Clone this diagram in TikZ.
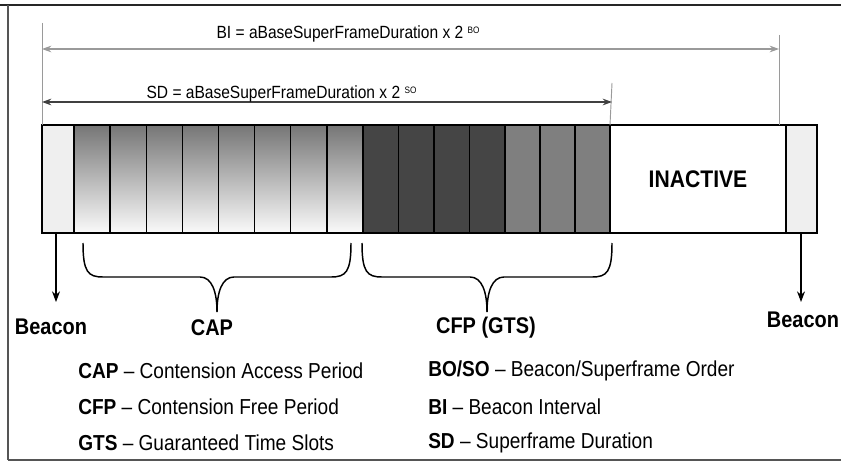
\documentclass[tikz,border=0pt]{standalone}
\usepackage{fontspec}
\setmainfont{Liberation Sans}[FakeStretch=0.88]
\usetikzlibrary{arrows.meta}
\definecolor{beaconfill}{HTML}{EFEFEF}
\definecolor{darkslot}{HTML}{454545}
\definecolor{midslot}{HTML}{7F7F7F}
\definecolor{capTop}{HTML}{767676}
\definecolor{capBot}{HTML}{FAFAFA}
\definecolor{dimline}{HTML}{9A9A9A}
\definecolor{framecol}{HTML}{555555}
\begin{document}
\begin{tikzpicture}[x=0.75pt,y=-0.75pt,
  slotbox/.style={draw=black, line width=1.1pt, inner sep=0pt, outer sep=0pt,
    minimum height=81pt, anchor=north west},
  capslot/.style={slotbox, minimum width=27.09pt, top color=capTop, bottom color=capBot},
  darkbox/.style={slotbox, minimum width=26.6pt, fill=darkslot},
  midbox/.style={slotbox, minimum width=26.25pt, fill=midslot},
  beaconbox/.style={slotbox, fill=beaconfill},
  dimtick/.style={draw=dimline, line width=0.7pt},
  dimarrow/.style={{Stealth[length=7pt,width=5pt]}-{Stealth[length=7pt,width=5pt]}, line width=0.8pt},
  dimlabel/.style={font=\fontsize{13.25}{15}\selectfont, inner sep=1pt},
  biglabel/.style={font=\fontsize{17}{20}\selectfont\bfseries, inner sep=0pt},
  legend/.style={font=\fontsize{16.25}{19}\selectfont, anchor=west, inner sep=0pt},
  downarrow/.style={-{Stealth[length=8pt,width=6pt]}, line width=0.8pt},
  bracepath/.style={draw=black, line width=1.1pt}
]
\useasboundingbox (0,0) rectangle (841,463);
\fill[white] (0,0) rectangle (841,463);
% frame
\draw[line width=2.2pt, black!85] (0,5) -- (841,5);
\draw[line width=0.8pt, framecol] (8,5) -- (8,460);
\draw[line width=2pt, framecol] (8,460) -- (841,460);

% slots
\node[beaconbox, minimum width=24pt] (b1) at (42,125) {};
\foreach \i in {0,...,7}
  \node[capslot] (cap\i) at ({74+36.125*\i},125) {};
\foreach \i in {0,...,3}
  \node[darkbox] (cfpd\i) at ({363+35.5*\i},125) {};
\foreach \i in {0,...,2}
  \node[midbox] (cfpm\i) at ({505+35*\i},125) {};
\node[slotbox, minimum width=132pt, fill=white] (inact) at (610,125) {};
\node[biglabel, font=\fontsize{18}{20}\selectfont\bfseries] at (inact.center) {INACTIVE};
\node[beaconbox, minimum width=23.25pt] (b2) at (786,125) {};

% dimension ticks
\coordinate (tl) at (42,23);
\coordinate (tbi) at (779,35);
\coordinate (tsd) at (612,83);
\draw[dimtick] (tl) -- (b1.north west);
\draw[dimtick] (tbi) -- (779,125);
\draw[dimtick] (tsd) -- (cfpm2.north east);

% BI arrow
\coordinate (biL) at (42,49);
\coordinate (biR) at (779,49);
\draw[dimarrow, draw=dimline] (biL) -- (biR);
\node[dimlabel, anchor=base west] (bilab) at (215,39) {BI = aBaseSuperFrameDuration x 2 \raisebox{0.6ex}{\fontsize{7}{8}\selectfont BO}};
% SD arrow
\coordinate (sdL) at (42,102);
\coordinate (sdR) at (612,102);
\draw[dimarrow, draw=black!75, line width=1.1pt] (sdL) -- (sdR);
\node[dimlabel, anchor=base west] (sdlab) at (145,99) {SD = aBaseSuperFrameDuration x 2 \raisebox{0.6ex}{\fontsize{7}{8}\selectfont SO}};

% beacon arrows
\node[biglabel] (beaconL) at (51,327) {Beacon};
\node[biglabel] (beaconR) at (803,320) {Beacon};
\draw[downarrow] (56,233) -- (56,302);
\draw[downarrow] (801,233) -- (801,302);

% braces
\draw[bracepath] (83,243) .. controls (83,272) and (88,277) .. (103,277) -- (200,277)
  .. controls (212,277) and (217,292) .. (217,312);
\draw[bracepath] (351,243) .. controls (351,272) and (346,277) .. (331,277) -- (234,277)
  .. controls (222,277) and (217,292) .. (217,312);
\node[biglabel] (caplab) at (212,328) {CAP};

\draw[bracepath] (362,243) .. controls (362,272) and (367,277) .. (382,277) -- (470,277)
  .. controls (482,277) and (487,292) .. (487,312);
\draw[bracepath] (612,243) .. controls (612,272) and (607,277) .. (592,277) -- (504,277)
  .. controls (492,277) and (487,292) .. (487,312);
\node[biglabel] (cfplab) at (486,328) {CFP (GTS)};

% legend
\node[legend] (l1) at (78,371) {\textbf{CAP} – Contension Access Period};
\node[legend] (l2) at (78,407) {\textbf{CFP} – Contension Free Period};
\node[legend] (l3) at (78,443) {\textbf{GTS} – Guaranteed Time Slots};
\node[legend] (r1) at (428,371) {\textbf{BO/SO} – Beacon/Superframe Order};
\node[legend] (r2) at (428,407) {\textbf{BI} – Beacon Interval};
\node[legend] (r3) at (428,443) {\textbf{SD} – Superframe Duration};
\end{tikzpicture}
\end{document}
